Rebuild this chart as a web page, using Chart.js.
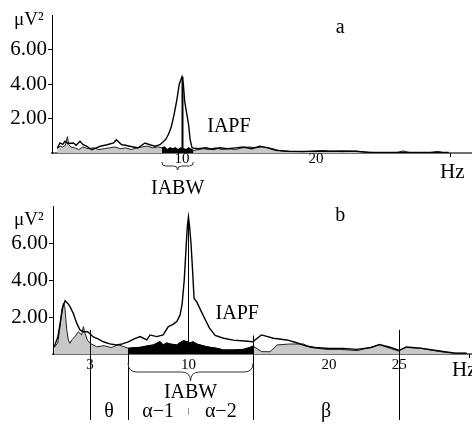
<!DOCTYPE html>
<html>
<head>
<meta charset="utf-8">
<script src="https://cdn.jsdelivr.net/npm/chart.js@4/dist/chart.umd.min.js"></script>
<style>
    body { margin: 0; background: #fff; }
    canvas { display: block; }
</style>
</head>
<body>
<canvas id="chartA" width="472" height="200"></canvas>
<canvas id="chartB" width="472" height="226"></canvas>
<script>
// --- spectrum a ---
const freqA_bg = [0.7, 0.9, 1.1, 1.3, 1.45, 1.55, 1.7, 2.0, 2.3, 2.6, 3.0, 3.4, 3.8, 4.2, 4.6, 5.0, 5.4, 5.8, 6.2, 6.6, 7.0, 7.4, 7.8, 8.2,
    8.5, 8.7, 8.9, 9.1, 9.3, 9.5, 9.7, 9.9, 10.1, 10.3, 10.5, 10.7, 10.85,
    11.2, 11.6, 12.0, 12.5, 13.0, 13.5, 14.0, 14.5, 15.0, 15.5, 16.0, 16.5, 17.0, 17.5, 18.0, 19.0, 20.0, 20.5, 21.0, 22.0, 23.0, 23.7, 24.5,
    26.0, 26.5, 27.0, 28.5, 29.1, 29.5, 29.9];
const powA_bg = [0.25, 0.4, 0.35, 0.45, 0.95, 0.5, 0.35, 0.3, 0.2, 0.35, 0.25, 0.3, 0.2, 0.25, 0.3, 0.35, 0.25, 0.3, 0.2, 0.3, 0.35, 0.4, 0.3, 0.35,
    0.3, 0.35, 0.2, 0.3, 0.25, 0.3, 0.2, 0.3, 0.25, 0.2, 0.3, 0.2, 0.15,
    0.2, 0.25, 0.2, 0.3, 0.2, 0.25, 0.2, 0.3, 0.35, 0.3, 0.35, 0.3, 0.2, 0.1, 0.08, 0.1, 0.08, 0.15, 0.1, 0.08, 0.1, 0.05, 0.02,
    0.02, 0.12, 0.02, 0.02, 0.1, 0.02, 0.0];
const freqA_line = [0.7, 0.9, 1.1, 1.27, 1.5, 1.9, 2.1, 2.39, 2.6, 2.9, 3.26, 3.6, 3.9, 4.4, 4.9, 5.1, 5.5, 5.8, 6.1, 6.4, 6.7, 7.0, 7.24, 7.6,
    8.0, 8.36, 8.6, 8.8, 9.0, 9.2, 9.4, 9.6, 9.8, 10.0, 10.1, 10.2, 10.35, 10.5, 10.6, 10.75,
    11.2, 11.8, 12.3, 12.8, 13.4, 14.0, 14.6, 15.2, 15.8, 16.4, 17.0, 18.0, 19.0, 20.0, 21.0, 22.0, 23.0, 24.0, 29.9];
const powA_line = [0.3, 0.58, 0.5, 0.68, 0.55, 0.58, 0.45, 0.68, 0.5, 0.39, 0.19, 0.3, 0.39, 0.48, 0.58, 0.77, 0.48, 0.45, 0.39, 0.35, 0.29, 0.45, 0.58, 0.48,
    0.39, 0.48, 0.65, 0.8, 1.1, 1.5, 2.2, 3.0, 4.0, 4.42, 4.0, 3.0, 2.3, 1.6, 0.8, 0.3,
    0.25, 0.3, 0.2, 0.3, 0.25, 0.3, 0.35, 0.25, 0.4, 0.3, 0.15, 0.1, 0.08, 0.12, 0.1, 0.12, 0.1, 0.03, 0.03];
const iabwA = [8.5, 10.85];
const xTicksA = [10, 20, 30];

// --- spectrum b ---
const freqB_bg = [0.45, 0.7, 0.86, 0.98, 1.1, 1.2, 1.34, 1.45, 1.57, 1.69, 1.93, 2.16, 2.4, 2.52, 2.64, 2.8, 3.0, 3.47, 4.0, 4.5, 5.0, 5.4,
    5.7, 6.1, 6.56, 7.03, 7.5, 7.74, 7.98, 8.2, 8.45, 8.7, 9.17, 9.4, 9.65, 9.88, 10.1, 10.35, 10.6, 11.1, 11.54, 12.0, 12.5, 13.2, 13.9, 14.4, 14.6,
    15.2, 15.8, 16.3, 17.2, 18.2, 18.65, 19.8, 20.8, 22.0, 22.7, 23.6, 24.35, 24.94, 25.5, 26.5, 27.9, 28.85, 29.8];
const powB_bg = [0.35, 0.6, 1.48, 2.38, 2.75, 2.56, 1.3, 0.76, 0.58, 0.76, 0.94, 1.2, 1.03, 1.48, 1.12, 0.76, 0.58, 0.39, 0.45, 0.35, 0.5, 0.4,
    0.31, 0.34, 0.36, 0.43, 0.49, 0.58, 0.67, 0.49, 0.6, 0.54, 0.49, 0.61, 0.72, 0.67, 0.61, 0.66, 0.54, 0.43, 0.36, 0.31, 0.22, 0.22, 0.25, 0.36, 0.43,
    0.13, 0.12, 0.49, 0.54, 0.54, 0.36, 0.25, 0.25, 0.18, 0.31, 0.49, 0.31, 0.16, 0.36, 0.31, 0.13, 0.04, 0.04];
const freqB_line = [0.45, 0.7, 0.9, 1.05, 1.22, 1.4, 1.57, 1.8, 2.04, 2.28, 2.52, 2.83, 3.23, 3.6, 3.94, 4.4, 4.9, 5.3, 5.72, 6.1, 6.56, 7.03, 7.27,
    7.74, 8.2, 8.57, 8.9, 9.17, 9.4, 9.55, 9.7, 9.82, 9.92, 10.0, 10.08, 10.18, 10.28, 10.4, 10.6, 10.85, 11.2, 11.5, 11.9, 12.5, 13.2, 14.0,
    14.57, 15.2, 16.05, 17.0, 17.7, 18.4, 19.0, 20.0, 21.0, 22.0, 23.0, 23.6, 24.4, 25.0, 25.5, 26.5, 28.0, 29.0, 29.8];
const powB_line = [0.4, 0.9, 1.8, 2.5, 2.88, 2.75, 2.56, 2.2, 1.68, 1.3, 1.2, 1.2, 0.92, 0.8, 0.66, 0.55, 0.49, 0.55, 0.66, 0.8, 0.94, 0.76, 1.03,
    0.94, 1.03, 1.48, 1.6, 1.75, 2.1, 2.7, 4.0, 5.6, 6.9, 7.42, 6.9, 6.0, 4.7, 3.0, 2.8, 2.4, 1.85, 1.4, 1.0, 0.85, 0.75, 0.7,
    0.66, 1.03, 0.85, 0.76, 0.61, 0.43, 0.35, 0.3, 0.3, 0.25, 0.35, 0.52, 0.35, 0.2, 0.38, 0.32, 0.15, 0.05, 0.05];
const iabwB = [5.7, 14.6];
const xTicksB = [3, 10, 20, 25, 30];
const bandEdgesB = [3, 5.7, 14.6, 25];
const bandTopsB = [1.3, 0.31, 1.0, 1.3];
const bandLabelsB = ['θ', 'α−1', 'α−2', 'β'];

const yTicks = [2, 4, 6];

const FONT = '"Liberation Serif", "Times New Roman", serif';

function points(freqs, values) {
    return freqs.map((f, i) => ({ x: f, y: values[i] }));
}

// part of the spectrum that lies inside the band
function bandPoints(freqs, values, band) {
    const pts = [];
    freqs.forEach((f, i) => {
        if (f >= band[0] && f <= band[1]) pts.push({ x: f, y: values[i] });
    });
    return pts;
}

function drawBrace(ctx, x1, x2, y, r) {
    const xm = (x1 + x2) / 2;
    ctx.beginPath();
    ctx.moveTo(x1, y);
    ctx.quadraticCurveTo(x1, y + r, x1 + r, y + r);
    ctx.lineTo(xm - r, y + r);
    ctx.quadraticCurveTo(xm, y + r, xm, y + 2 * r);
    ctx.quadraticCurveTo(xm, y + r, xm + r, y + r);
    ctx.lineTo(x2 - r, y + r);
    ctx.quadraticCurveTo(x2, y + r, x2, y);
    ctx.stroke();
}

function vline(ctx, x, y1, y2) {
    ctx.beginPath();
    ctx.moveTo(Math.round(x) + 0.5, y1);
    ctx.lineTo(Math.round(x) + 0.5, y2);
    ctx.stroke();
}

function notesPlugin(spec) {
    return {
        id: 'notes',
        afterDraw(chart) {
            const { ctx, scales: { x, y } } = chart;
            const base = y.getPixelForValue(0);
            ctx.save();
            ctx.fillStyle = '#000';
            ctx.strokeStyle = '#000';

            // units over the y axis
            ctx.font = '19px ' + FONT;
            ctx.textAlign = 'left';
            ctx.textBaseline = 'alphabetic';
            ctx.fillText('μV²', 14, spec.unitY);

            ctx.textAlign = 'center';
            ctx.textBaseline = 'middle';
            ctx.font = '20px ' + FONT;
            ctx.fillText(spec.letter, x.getPixelForValue(spec.letterAt[0]), y.getPixelForValue(spec.letterAt[1]));
            ctx.fillText('IAPF', x.getPixelForValue(spec.iapfAt[0]), y.getPixelForValue(spec.iapfAt[1]));

            // peak frequency marker
            const vals = spec.line[1];
            const iPeak = vals.indexOf(Math.max(...vals));
            ctx.lineWidth = spec.peakWidth;
            vline(ctx, x.getPixelForValue(spec.line[0][iPeak]), y.getPixelForValue(vals[iPeak]), base);

            // band boundaries and band names
            ctx.lineWidth = 1;
            if (spec.bands) {
                const b = spec.bands;
                b.edges.forEach((f, i) => {
                    vline(ctx, x.getPixelForValue(f), y.getPixelForValue(b.tops[i]), base + b.bottom);
                });
                ctx.strokeStyle = '#999';
                vline(ctx, x.getPixelForValue(b.mid), base + b.midTick[0], base + b.midTick[1]);
                ctx.strokeStyle = '#000';
                ctx.font = '20px ' + FONT;
                const splits = [b.edges[0], b.edges[1], b.mid, b.edges[2], b.edges[3]];
                b.labels.forEach((t, i) => {
                    const f = (splits[i] + splits[i + 1]) / 2;
                    ctx.fillText(t, x.getPixelForValue(f), base + b.labelDy);
                });
            }

            // x tick labels; the last tick carries the unit instead
            ctx.font = '15px ' + FONT;
            spec.xTicks.forEach((v, i) => {
                const px = x.getPixelForValue(v);
                if (i === spec.xTicks.length - 1) {
                    vline(ctx, px, base, base + 4);
                } else {
                    ctx.fillText(String(v), px, base + spec.tickDy);
                }
            });
            ctx.font = '21px ' + FONT;
            ctx.textAlign = 'left';
            ctx.fillText('Hz', spec.hzX, base + spec.hzDy);

            // IABW brace
            ctx.strokeStyle = '#333';
            const x1 = x.getPixelForValue(spec.band[0]);
            const x2 = x.getPixelForValue(spec.band[1]);
            drawBrace(ctx, x1, x2, base + spec.braceDy, spec.braceR);
            ctx.textAlign = 'center';
            ctx.font = '20px ' + FONT;
            ctx.fillText('IABW', (x1 + x2) / 2, base + spec.iabwDy);
            ctx.restore();
        }
    };
}

function makeSpectrum(spec) {
    return new Chart(document.getElementById(spec.id), {
        type: 'line',
        data: {
            datasets: [
                {
                    data: points(spec.line[0], spec.line[1]),
                    borderColor: '#000',
                    borderWidth: 1.4,
                    fill: false,
                    pointRadius: 0,
                    order: 0
                },
                {
                    data: bandPoints(spec.bg[0], spec.bg[1], spec.band),
                    borderColor: '#000',
                    borderWidth: 1,
                    backgroundColor: '#000',
                    fill: 'origin',
                    pointRadius: 0,
                    order: 1
                },
                {
                    data: points(spec.bg[0], spec.bg[1]),
                    borderColor: '#222',
                    borderWidth: 1,
                    backgroundColor: '#c8c8c8',
                    fill: 'origin',
                    pointRadius: 0,
                    order: 2
                }
            ]
        },
        options: {
            responsive: false,
            animation: false,
            events: [],
            layout: { padding: { top: spec.top, left: 0, right: 0, bottom: 0 } },
            plugins: { legend: { display: false }, tooltip: { enabled: false } },
            scales: {
                x: {
                    type: 'linear',
                    min: spec.xRange[0],
                    max: spec.xRange[1],
                    afterFit: s => { s.height = spec.axisHeight; s.paddingLeft = 0; s.paddingRight = 0; },
                    ticks: { display: false },
                    grid: { display: false },
                    border: { display: true, color: '#707070', width: 2 }
                },
                y: {
                    min: 0,
                    max: 8,
                    afterBuildTicks: s => { s.ticks = yTicks.map(v => ({ value: v })); },
                    afterFit: s => { s.width = spec.axisWidth; s.paddingTop = 0; s.paddingBottom = 0; },
                    ticks: {
                        callback: v => v.toFixed(2),
                        font: { family: FONT, size: 21 },
                        color: '#000',
                        padding: 1
                    },
                    grid: { drawOnChartArea: false, drawTicks: true, tickLength: 4, color: '#000' },
                    border: { display: true, color: '#000', width: 1 }
                }
            }
        },
        plugins: [notesPlugin(spec)]
    });
}

makeSpectrum({
    id: 'chartA',
    top: 15, axisHeight: 47, axisWidth: 52, xRange: [0.3, 31.64],
    bg: [freqA_bg, powA_bg], line: [freqA_line, powA_line], band: iabwA, xTicks: xTicksA,
    unitY: 25, letter: 'a', letterAt: [21.8, 7.25], iapfAt: [13.5, 1.5], peakWidth: 2,
    tickDy: 6.5, hzX: 440, hzDy: 19, braceDy: 9, braceR: 4, iabwDy: 36
});

makeSpectrum({
    id: 'chartB',
    top: 6, axisHeight: 72, axisWidth: 53, xRange: [0.36, 30.18],
    bg: [freqB_bg, powB_bg], line: [freqB_line, powB_line], band: iabwB, xTicks: xTicksB,
    unitY: 25, letter: 'b', letterAt: [20.8, 7.5], iapfAt: [13.47, 2.16], peakWidth: 1,
    tickDy: 11, hzX: 452, hzDy: 16, braceDy: 9, braceR: 9, iabwDy: 39,
    bands: { edges: bandEdgesB, tops: bandTopsB, labels: bandLabelsB, mid: 10, bottom: 66, midTick: [54, 61], labelDy: 58 }
});
</script>
</body>
</html>
